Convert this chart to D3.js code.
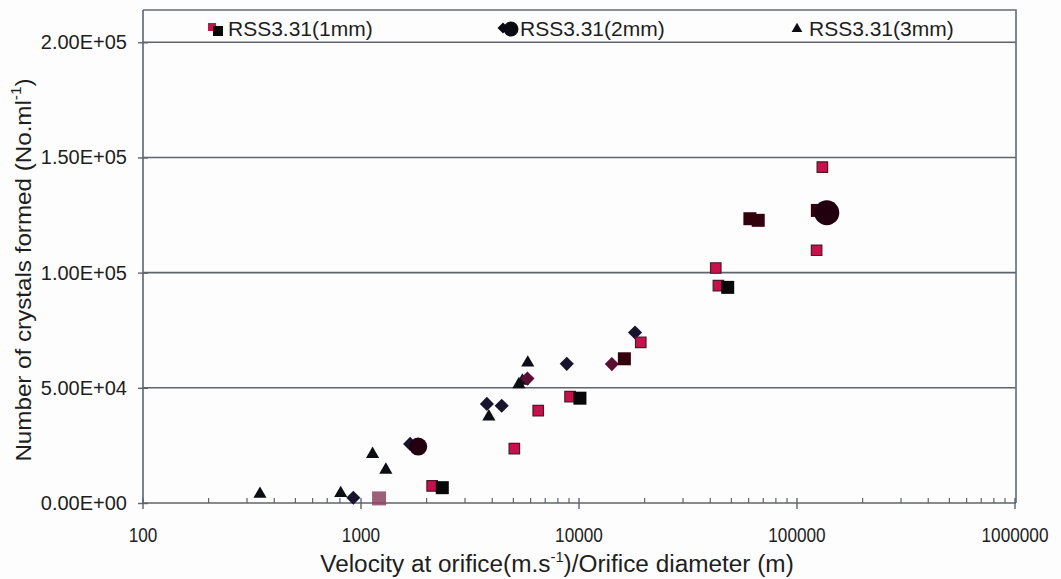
<!DOCTYPE html>
<html>
<head>
<meta charset="utf-8">
<script src="https://cdn.jsdelivr.net/npm/d3@7/dist/d3.min.js"></script>
<style>
  html, body { margin: 0; padding: 0; background: #fdfdfd; }
  svg { display: block; font-family: "Liberation Sans", Arial, sans-serif; }
</style>
</head>
<body>
<div id="chart"></div>
<script>
// points: [velocity/diameter, crystals per ml]
const pinkSquares = [[2120, 7400], [9100, 46200], [6500, 40100], [5050, 23600], [19200, 69700],
  [42400, 102000], [43600, 94350], [123000, 109700], [130700, 145800]];
const blackSquares = [[2360, 6650], [10100, 45500], [48100, 93600]];
const maroonSquares = [[60800, 123400], [66400, 122700], [16150, 62600], [124000, 127000]];
const fadedSquares = [[1210, 2000]];
const navyDiamonds = [[922, 2300], [1680, 25650], [3780, 43000], [4420, 42200], [8790, 60400], [18070, 74000]];
const maroonDiamonds = [[14150, 60300], [5800, 54000]];
const circles = [[1830, 24500], [137000, 126000]];
const circleSizes = [9, 12.5];
const triangles = [[344, 3900], [807, 4200], [1130, 21200], [1300, 14350], [3860, 37500],
  [5821, 60870], [5500, 53000], [5300, 51500]];

const legendLabels = ['RSS3.31(1mm)', 'RSS3.31(2mm)', 'RSS3.31(3mm)'];
const xTicks = [100, 1000, 10000, 100000, 1000000];
const yTicks = [0, 50000, 100000, 150000, 200000];

const W = 1061, H = 579;
const pL = 143, pR = 1016, pT = 10, pB = 503;

const svg = d3.select('#chart').append('svg').attr('width', W).attr('height', H);

const x = d3.scaleLog().domain([100, 1000000]).range([pL, pR - 1]);
const y = d3.scaleLinear().domain([0, 214000]).range([pB, pT]);

const fmtE = v => {
  if (v === 0) return '0.00E+00';
  const e = Math.floor(Math.log10(v));
  return (v / Math.pow(10, e)).toFixed(2) + 'E+' + String(e).padStart(2, '0');
};

// gridlines
svg.append('g').selectAll('line').data(yTicks.filter(d => d > 0)).enter().append('line')
  .attr('x1', pL).attr('x2', pR).attr('y1', d => y(d)).attr('y2', d => y(d))
  .attr('stroke', '#5d646c').attr('stroke-width', 1.6);

// frame: top + right
svg.append('path')
  .attr('d', `M${pL},${pT}H${pR}V${pB}`)
  .attr('fill', 'none').attr('stroke', '#666c74').attr('stroke-width', 1.6);

// y axis
const yAxis = d3.axisLeft(y).tickValues(yTicks).tickSizeInner(5).tickSizeOuter(0).tickPadding(10).tickFormat(fmtE);
const gy = svg.append('g').attr('transform', `translate(${pL},0)`).call(yAxis);
gy.select('.domain').attr('stroke', '#5d646c').attr('stroke-width', 1.6).attr('d', `M0,${pT}V${pB}`);
gy.selectAll('.tick line').attr('x1', -5).attr('x2', 5).attr('stroke', '#5d646c').attr('stroke-width', 1.4);
gy.selectAll('.tick text').attr('font-size', 20).attr('fill', '#1e1e1e').attr('x', -16)
  .attr('font-family', '"Liberation Sans", Arial, sans-serif');

// x axis: major ticks down, minor ticks up
const minor = [];
for (let p = 100; p < 1000000; p *= 10) for (let k = 2; k <= 9; k++) minor.push(p * k);
const gx = svg.append('g').attr('transform', `translate(0,${pB})`);
gx.append('line').attr('x1', pL).attr('x2', pR).attr('stroke', '#5d646c').attr('stroke-width', 1.6);
gx.selectAll('.minor').data(minor).enter().append('line')
  .attr('x1', d => x(d)).attr('x2', d => x(d)).attr('y1', 0).attr('y2', -5)
  .attr('stroke', '#5d646c').attr('stroke-width', 1.2);
gx.selectAll('.major').data(xTicks).enter().append('line')
  .attr('x1', d => x(d)).attr('x2', d => x(d)).attr('y1', -5).attr('y2', 6)
  .attr('stroke', '#5d646c').attr('stroke-width', 1.4);
gx.selectAll('text').data(xTicks).enter().append('text')
  .attr('transform', d => `translate(${x(d)},39) scale(0.86,1.05)`)
  .attr('text-anchor', 'middle')
  .attr('font-size', 20).attr('fill', '#1e1e1e')
  .text(d => d);

// axis titles
const xt = svg.append('text').attr('transform', `translate(557,572) scale(1.06,1)`)
  .attr('text-anchor', 'middle').attr('font-size', 23).attr('fill', '#1e1e1e');
xt.append('tspan').text('Velocity at orifice(m.s');
xt.append('tspan').attr('dy', -10).attr('font-size', 14).text('-1');
xt.append('tspan').attr('dy', 10).text(')/Orifice diameter (m)');

const yt = svg.append('text').attr('transform', `translate(31,270) rotate(-90) scale(1.1,1)`)
  .attr('text-anchor', 'middle').attr('font-size', 22).attr('fill', '#1e1e1e');
yt.append('tspan').text('Number of crystals formed (No.ml');
yt.append('tspan').attr('dy', -10).attr('font-size', 14).text('-1');
yt.append('tspan').attr('dy', 10).text(')');

// markers
const sym = (type, area) => d3.symbol().type(type).size(area)();
const plot = svg.append('g');

function drawSet(data, type, area, fill, stroke, opts = {}) {
  plot.selectAll(null).data(data).enter().append('path')
    .attr('d', (d, i) => sym(type, Array.isArray(area) ? area[i] : area))
    .attr('transform', d => `translate(${x(d[0])},${y(d[1])})${opts.rotate ? ' rotate(45)' : ''}`)
    .attr('fill', fill).attr('stroke', stroke || 'none').attr('stroke-width', 1.2)
    .attr('opacity', opts.opacity || 1);
}

drawSet(fadedSquares, d3.symbolSquare, 196, '#8c4462', null, { opacity: 0.85 });
drawSet(triangles, d3.symbolTriangle, 75, '#0d0d14');
drawSet(navyDiamonds, d3.symbolSquare, 100, '#18142e', null, { rotate: true });
drawSet(maroonDiamonds, d3.symbolSquare, 100, '#5a0f32', null, { rotate: true });
drawSet(pinkSquares, d3.symbolSquare, 110, '#c8104c', '#4a1a2a');
drawSet(blackSquares, d3.symbolSquare, 169, '#070707');
drawSet(maroonSquares, d3.symbolSquare, 169, '#33000e');
drawSet(circles, d3.symbolCircle, circleSizes.map(r => Math.PI * r * r), '#22000e');

// legend
const lg = svg.append('g');
lg.append('path').attr('d', sym(d3.symbolSquare, 64)).attr('transform', 'translate(212,27)').attr('fill', '#c8104c');
lg.append('path').attr('d', sym(d3.symbolSquare, 100)).attr('transform', 'translate(218,31)').attr('fill', '#070707');
lg.append('path').attr('d', sym(d3.symbolSquare, 60)).attr('transform', 'translate(503,28) rotate(45)').attr('fill', '#0a0a10');
lg.append('path').attr('d', sym(d3.symbolCircle, Math.PI * 56)).attr('transform', 'translate(511,29)').attr('fill', '#0a0a10');
lg.append('path').attr('d', sym(d3.symbolTriangle, 50)).attr('transform', 'translate(797,29)').attr('fill', '#0d0d14');
const legendX = [228, 520, 809];
lg.selectAll('text').data(legendLabels).enter().append('text')
  .attr('x', (d, i) => legendX[i]).attr('y', 36)
  .attr('font-size', 21).attr('fill', '#1e1e1e').text(d => d);
</script>
</body>
</html>
